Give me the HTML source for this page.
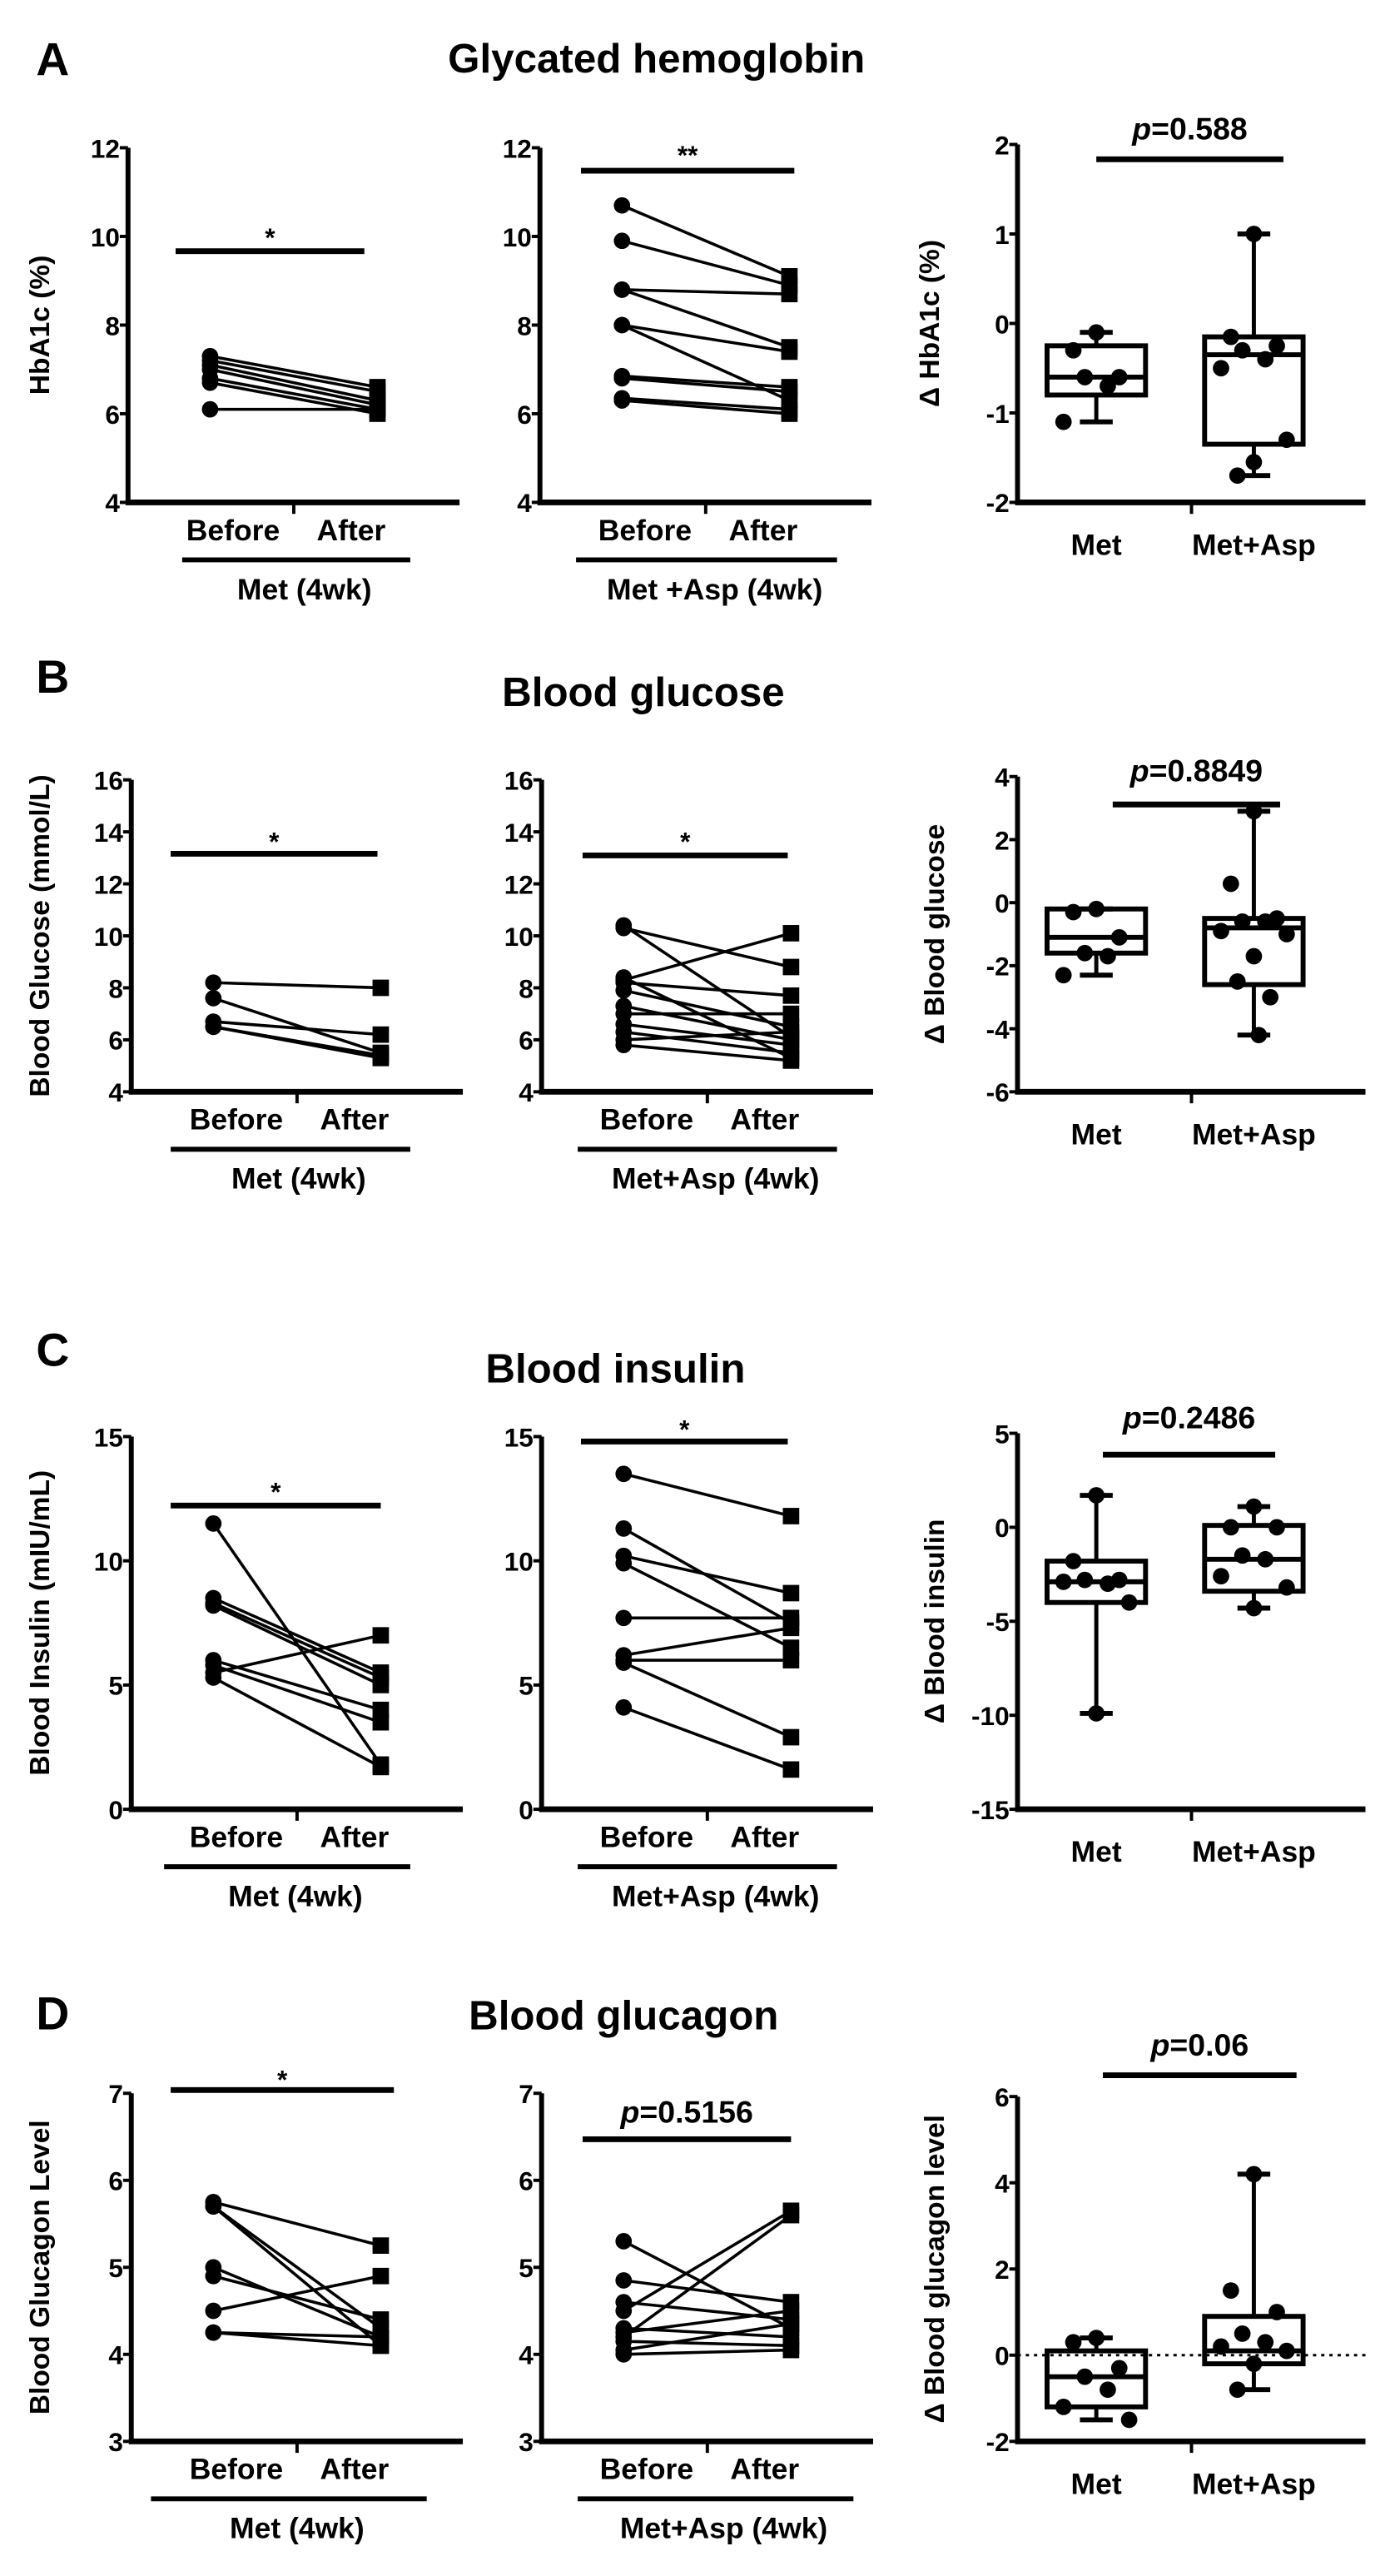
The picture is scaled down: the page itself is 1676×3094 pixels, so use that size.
<!DOCTYPE html>
<html><head><meta charset="utf-8"><style>
html,body{margin:0;padding:0;background:#fff;}
svg{display:block;font-family:"Liberation Sans",Arial,sans-serif;font-weight:bold;}
</style></head><body>
<svg id="fig" width="1676" height="3094" viewBox="0 0 850 1569" preserveAspectRatio="none" xmlns="http://www.w3.org/2000/svg">
<text x="22" y="46" font-size="28">A</text>
<text x="400" y="44" font-size="25" text-anchor="middle">Glycated hemoglobin</text>
<text x="22" y="422" font-size="28">B</text>
<text x="392" y="430" font-size="25" text-anchor="middle">Blood glucose</text>
<text x="22" y="832" font-size="28">C</text>
<text x="375" y="842" font-size="25" text-anchor="middle">Blood insulin</text>
<text x="22" y="1236" font-size="28">D</text>
<text x="380" y="1236" font-size="25" text-anchor="middle">Blood glucagon</text>
</svg>
<script>
// ---- data ----
const a1Before=[7.3,7.2,7.1,7.0,6.8,6.7,6.1];
const a1After=[6.6,6.5,6.3,6.2,6.1,6.0,6.1];
const a2Before=[10.7,9.9,8.8,8.8,8.0,8.0,6.85,6.8,6.35,6.3];
const a2After=[9.1,8.9,8.7,7.5,7.4,6.3,6.6,6.5,6.1,6.0];
const a3Met=[-0.1,-0.3,-0.6,-0.6,-0.7,-1.1];
const a3Asp=[1.0,-0.15,-0.25,-0.3,-0.4,-0.5,-1.3,-1.55,-1.7];
const a3MetBox=[-1.1,-0.8,-0.6,-0.25,-0.1];
const a3AspBox=[-1.7,-1.35,-0.35,-0.15,1.0];
const aTicks=[4,6,8,10,12];
const a3Ticks=[-2,-1,0,1,2];

const b1Before=[8.2,7.6,6.7,6.5,6.5];
const b1After=[8.0,5.5,6.2,5.4,5.3];
const b2Before=[10.4,10.3,8.4,8.3,8.2,7.9,7.3,7.0,6.6,6.3,6.0,5.8];
const b2After=[6.1,8.8,5.3,10.1,7.7,6.5,6.0,7.0,5.8,5.5,6.3,5.2];
const b3Met=[-0.2,-0.3,-1.1,-1.6,-1.7,-2.3];
const b3Asp=[2.9,0.6,-0.5,-0.6,-0.6,-0.9,-1.0,-1.7,-2.5,-3.0,-4.2];
const b3MetBox=[-2.3,-1.6,-1.1,-0.2,-0.2];
const b3AspBox=[-4.2,-2.6,-0.8,-0.5,2.9];
const bTicks=[4,6,8,10,12,14,16];
const b3Ticks=[-6,-4,-2,0,2,4];

const c1Before=[11.5,8.5,8.3,8.2,6.0,5.8,5.5,5.3];
const c1After=[1.8,5.5,5.3,5.0,4.0,3.5,7.0,1.7];
const c2Before=[13.5,11.3,10.2,9.9,7.7,6.2,6.0,5.9,4.1];
const c2After=[11.8,7.5,8.7,6.5,7.7,7.3,6.0,2.9,1.6];
const c3Met=[1.7,-1.8,-2.8,-2.8,-3.0,-2.9,-4.0,-9.9];
const c3Asp=[1.1,0,0,-1.5,-1.7,-2.6,-3.2,-4.3];
const c3MetBox=[-9.9,-4.0,-2.9,-1.8,1.7];
const c3AspBox=[-4.3,-3.4,-1.7,0.1,1.1];
const cTicks=[0,5,10,15];
const c3Ticks=[-15,-10,-5,0,5];

const d1Before=[5.75,5.7,5.7,5.0,4.9,4.5,4.25,4.25];
const d1After=[5.25,4.3,4.1,4.2,4.4,4.9,4.1,4.2];
const d2Before=[5.3,4.85,4.6,4.5,4.3,4.25,4.2,4.15,4.05,4.0];
const d2After=[4.3,4.6,4.4,5.65,4.2,4.5,5.6,4.1,4.35,4.05];
const d3Met=[0.4,0.3,-0.3,-0.5,-0.8,-1.2,-1.5];
const d3Asp=[4.2,1.5,1.0,0.5,0.3,0.2,0.1,-0.2,-0.8];
const d3MetBox=[-1.5,-1.2,-0.5,0.1,0.4];
const d3AspBox=[-0.8,-0.2,0.1,0.9,4.2];
const dTicks=[3,4,5,6,7];
const d3Ticks=[-2,0,2,4,6];

const svg=document.getElementById('fig');
const NS='http://www.w3.org/2000/svg';
function el(tag,attrs,parent){const e=document.createElementNS(NS,tag);for(const k in attrs)e.setAttribute(k,attrs[k]);(parent||svg).appendChild(e);return e;}
function txt(s,x,y,size,parent,anchor){const t=el('text',{x:x,y:y,'font-size':size,'text-anchor':anchor||'middle'},parent);t.textContent=s;return t;}

function axes(g,ax,top,bot,xEnd,ymin,ymax,ticks,ylabel,ylx){
  const sy=v=>bot-(v-ymin)/(ymax-ymin)*(bot-top);
  el('line',{x1:ax,y1:top,x2:ax,y2:bot+1.5,stroke:'#000','stroke-width':3},g);
  el('line',{x1:ax-1.5,y1:bot,x2:xEnd,y2:bot,stroke:'#000','stroke-width':3.5},g);
  ticks.forEach(t=>{
    el('line',{x1:ax-5,y1:sy(t),x2:ax,y2:sy(t),stroke:'#000','stroke-width':2},g);
    const tl=txt(String(t),ax-5,sy(t)+6,16,g,'end');
    
    
  });
  const yl=txt(ylabel,0,0,17,g);
  yl.setAttribute('transform','translate('+ylx+','+((top+bot)/2)+') rotate(-90)');
  
  
  el('line',{x1:(ax+xEnd)/2,y1:bot,x2:(ax+xEnd)/2,y2:bot+7,stroke:'#000','stroke-width':2},g);
  return sy;
}
function sigBar(g,x1,x2,y,label,ly,italicP){
  const l=el('line',{x1:x1,y1:y,x2:x2,y2:y,stroke:'#000','stroke-width':3.5},g);
  
  
  const t=el('text',{x:(x1+x2)/2,y:ly,'font-size':italicP?19:16,'text-anchor':'middle'},g);
  
  
  if(italicP){const p=el('tspan',{'font-style':'italic'},t);p.textContent='p';const r=el('tspan',{},t);r.textContent='='+label;}
  else t.textContent=label;
}
function paired(name,o,before,after){
  const g=el('g',{});
  
  
  const sy=axes(g,o.ax,o.top,o.bot,o.ax+202,o.ticks[0],o.ticks[o.ticks.length-1],o.ticks,o.ylabel,o.ylx);
  const xb=o.ax+50,xa=o.ax+152;
  before.forEach((b,i)=>{
    const ln=el('line',{x1:xb,y1:sy(b),x2:xa,y2:sy(after[i]),stroke:'#000','stroke-width':1.8},g);
    
    
  });
  before.forEach(b=>{
    const c=el('circle',{cx:xb,cy:sy(b),r:5,fill:'#000'},g);
    
    
  });
  after.forEach(a=>{
    const r=el('rect',{x:xa-5,y:sy(a)-5,width:10,height:10,fill:'#000'},g);
    
    
  });
  sigBar(g,o.s1,o.s2,o.sy,o.sig,o.sly,o.italic);
  const lb=o.bot+23;
  txt('Before',xb+14,lb,18,g);
  txt('After',xa-16,lb,18,g);
  el('line',{x1:o.g1,y1:lb+12,x2:o.g2,y2:lb+12,stroke:'#000','stroke-width':3},g);
  txt(o.group,(o.g1+o.g2)/2+5,lb+36,18,g);
}
function boxes(name,o,met,asp,metBox,aspBox){
  const g=el('g',{});
  
  
  const sy=axes(g,o.ax,o.top,o.bot,o.ax+212,o.ticks[0],o.ticks[o.ticks.length-1],o.ticks,o.ylabel,o.ylx);
  if(o.dotted){const dl=el('line',{x1:o.ax,y1:sy(0),x2:o.ax+212,y2:sy(0),stroke:'#000','stroke-width':1.5,'stroke-dasharray':'2,3'},g);
    }
  [[o.ax+48,met,metBox,'box-met'],[o.ax+144,asp,aspBox,'box-met-asp']].forEach(([cx,pts,bx,nm])=>{
    const w=30;
    el('line',{x1:cx,y1:sy(bx[0]),x2:cx,y2:sy(bx[1]),stroke:'#000','stroke-width':2.5},g);
    el('line',{x1:cx,y1:sy(bx[3]),x2:cx,y2:sy(bx[4]),stroke:'#000','stroke-width':2.5},g);
    el('line',{x1:cx-10,y1:sy(bx[0]),x2:cx+10,y2:sy(bx[0]),stroke:'#000','stroke-width':3},g);
    el('line',{x1:cx-10,y1:sy(bx[4]),x2:cx+10,y2:sy(bx[4]),stroke:'#000','stroke-width':3},g);
    const r=el('rect',{x:cx-w,y:sy(bx[3]),width:2*w,height:sy(bx[1])-sy(bx[3]),fill:'none',stroke:'#000','stroke-width':3},g);
    
    
    el('line',{x1:cx-w,y1:sy(bx[2]),x2:cx+w,y2:sy(bx[2]),stroke:'#000','stroke-width':3},g);
    const offs=[0,-14,14,-7,7,-20,20,0,-10,10,3,-3];
    pts.forEach((v,i)=>{
      const c=el('circle',{cx:cx+offs[i%offs.length],cy:sy(v),r:5,fill:'#000'},g);
      
      
    });
  });
  sigBar(g,o.s1,o.s2,o.sy,o.sig,o.sly,true);
  txt('Met',o.ax+48,o.bot+32,18,g);
  txt('Met+Asp',o.ax+144,o.bot+32,18,g);
}

paired('chart-a-met',{ax:78,top:90,bot:306,ticks:aTicks,ylabel:'HbA1c (%)',ylx:30,s1:107,s2:222,sy:153,sig:'*',sly:150,g1:111,g2:250,group:'Met  (4wk)'},a1Before,a1After);
paired('chart-a-metasp',{ax:329,top:90,bot:306,ticks:aTicks,ylabel:'',ylx:300,s1:354,s2:484,sy:104,sig:'**',sly:100,g1:351,g2:510,group:'Met +Asp (4wk)'},a2Before,a2After);
boxes('chart-a-delta',{ax:620,top:88,bot:306,ticks:a3Ticks,ylabel:'Δ HbA1c (%)',ylx:572,s1:668,s2:782,sy:97,sig:'0.588',sly:85},a3Met,a3Asp,a3MetBox,a3AspBox);

paired('chart-b-met',{ax:80,top:475,bot:665,ticks:bTicks,ylabel:'Blood Glucose (mmol/L)',ylx:30,s1:104,s2:230,sy:520,sig:'*',sly:518,g1:104,g2:250,group:'Met  (4wk)'},b1Before,b1After);
paired('chart-b-metasp',{ax:330,top:475,bot:665,ticks:bTicks,ylabel:'',ylx:300,s1:355,s2:480,sy:521,sig:'*',sly:518,g1:352,g2:510,group:'Met+Asp (4wk)'},b2Before,b2After);
boxes('chart-b-delta',{ax:620,top:473,bot:665,ticks:b3Ticks,ylabel:'Δ Blood glucose',ylx:575,s1:678,s2:780,sy:490,sig:'0.8849',sly:476},b3Met,b3Asp,b3MetBox,b3AspBox);

paired('chart-c-met',{ax:80,top:875,bot:1102,ticks:cTicks,ylabel:'Blood Insulin (mIU/mL)',ylx:30,s1:104,s2:232,sy:917,sig:'*',sly:914,g1:100,g2:250,group:'Met (4wk)'},c1Before,c1After);
paired('chart-c-metasp',{ax:330,top:875,bot:1102,ticks:cTicks,ylabel:'',ylx:300,s1:354,s2:480,sy:878,sig:'*',sly:876,g1:352,g2:510,group:'Met+Asp (4wk)'},c2Before,c2After);
boxes('chart-c-delta',{ax:620,top:873,bot:1102,ticks:c3Ticks,ylabel:'Δ Blood insulin',ylx:575,s1:672,s2:777,sy:886,sig:'0.2486',sly:870},c3Met,c3Asp,c3MetBox,c3AspBox);

paired('chart-d-met',{ax:80,top:1275,bot:1487,ticks:dTicks,ylabel:'Blood Glucagon Level',ylx:30,s1:104,s2:240,sy:1273,sig:'*',sly:1272,g1:92,g2:260,group:'Met  (4wk)'},d1Before,d1After);
paired('chart-d-metasp',{ax:330,top:1275,bot:1487,ticks:dTicks,ylabel:'',ylx:300,s1:355,s2:482,sy:1303,sig:'0.5156',sly:1293,italic:true,g1:352,g2:520,group:'Met+Asp (4wk)'},d2Before,d2After);
boxes('chart-d-delta',{ax:620,top:1277,bot:1487,ticks:d3Ticks,ylabel:'Δ Blood glucagon level',ylx:575,s1:672,s2:790,sy:1264,sig:'0.06',sly:1252,dotted:true},d3Met,d3Asp,d3MetBox,d3AspBox);
</script>
</body></html>
